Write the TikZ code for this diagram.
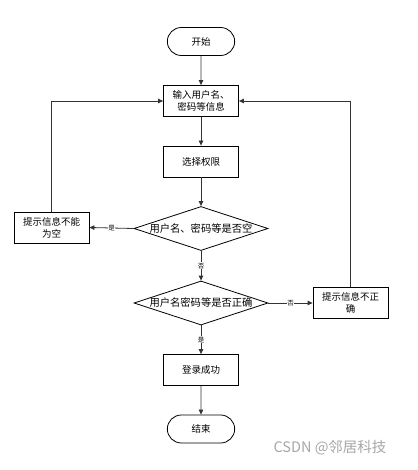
\documentclass[tikz,border=0pt]{standalone}
\usepackage{fontspec}
\newfontfamily\cjk{Noto Sans CJK SC}
\usetikzlibrary{shapes.geometric,shapes.misc,arrows.meta}

\begin{document}
\begin{tikzpicture}[x=1pt,y=-1pt,
	every node/.style={font=\cjk\fontsize{9.5}{12}\selectfont},
	term/.style={draw,rounded rectangle,minimum width=74pt,minimum height=28pt,line width=0.8pt},
	box/.style={draw,rectangle,minimum width=75pt,minimum height=31pt,align=center,inner sep=1pt,line width=0.8pt},
	dia/.style={draw,diamond,minimum width=134pt,minimum height=44pt,inner sep=0pt,line width=0.8pt},
	arr/.style={-{Triangle[length=5pt,width=4.5pt]},line width=0.8pt,draw=black!80},
	tag/.style={fill=white,inner sep=0.5pt,font=\cjk\fontsize{6.5}{7}\selectfont}]
			\useasboundingbox (0,0) rectangle (417,470);
			\node[term] (start) at (201,41.5) {开始};
			\node[box] (input) at (201,101) {输入用户名、\\密码等信息};
			\node[box] (perm) at (201,161.5) {选择权限};
			\node[dia,label={[font=\cjk\fontsize{10.3}{12}\selectfont]center:用户名、密码等是否空}] (chk1) at (201,228.5) {};
			\node[box] (warn1) at (51.5,227.5) {提示信息不能\\为空};
			\node[dia,label={[font=\cjk\fontsize{10.3}{12}\selectfont]center:用户名密码等是否正确}] (chk2) at (201,303) {};
			\node[box] (warn2) at (350.5,303) {提示信息不正\\确};
			\node[box] (login) at (201,370) {登录成功};
			\node[term] (stop) at (201,429) {结束};
			
			\draw [arr] (start)--(input);
			\draw [arr] (input)--(perm);
			\draw [arr] (perm)--(chk1);
			\draw [arr] (chk1.west)--(warn1.east) node[tag,midway]{是};
			\draw [arr] (chk1.south)--(chk2.north) node[tag,midway]{否};
			\draw [arr] (chk2.east)--(warn2.west) node[tag,midway]{否};
			\draw [arr] (chk2.south)--(login.north) node[tag,midway]{是};
			\draw [arr] (login)--(stop);
			\draw [arr] (warn1.north)|-(input.west);
			\draw [arr] (warn2.north)|-(input.east);
			
			\node[text=black!35,font=\cjk\fontsize{14.5}{16}\selectfont] (mark) at (330,448) {CSDN @邻居科技};
			\end{tikzpicture}
\end{document}
